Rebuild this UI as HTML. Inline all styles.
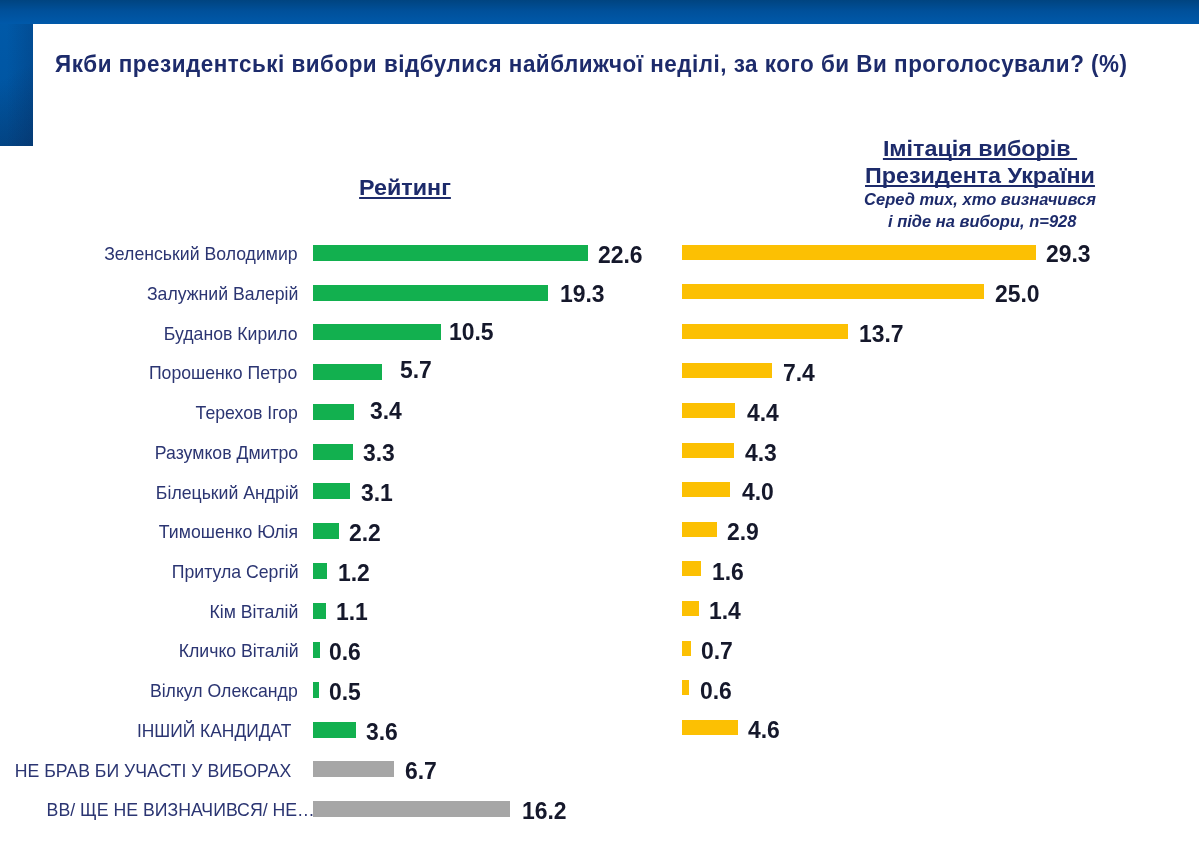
<!DOCTYPE html>
<html lang="uk">
<head>
<meta charset="utf-8">
<title>Рейтинг</title>
<style>
html,body{margin:0;padding:0;background:#fff;}
body{width:1200px;height:852px;position:relative;overflow:hidden;font-family:"Liberation Sans",sans-serif;}
.topband{position:absolute;left:0;top:0;width:1199px;height:24.3px;background:linear-gradient(to bottom,#004480 0%,#00509a 45%,#0059aa 100%);}
.leftblk{position:absolute;left:0;top:24px;width:32.6px;height:121.6px;background:linear-gradient(to right,rgba(10,35,80,0) 20%,rgba(10,35,80,.22) 100%),linear-gradient(150deg,rgba(10,35,80,0) 40%,rgba(10,35,80,.36) 100%),linear-gradient(to bottom,#0059a8 0%,#0056a3 50%,#005198 100%);}
.title{position:absolute;left:54.7px;top:50.5px;margin:0;font-size:23.2px;line-height:26px;letter-spacing:.518px;font-weight:700;color:#1d2b6b;white-space:nowrap;transform:scaleX(0.968);transform-origin:0 0;}
.h{position:absolute;font-weight:700;font-size:22.8px;line-height:26.6px;transform:scaleX(1.022);transform-origin:50% 0;color:#1d2b6b;text-align:center;white-space:pre;text-decoration:underline;text-decoration-thickness:2px;text-underline-offset:2px;text-decoration-skip-ink:none;}
.sub{position:absolute;font-weight:700;font-style:italic;font-size:16.2px;line-height:21.2px;color:#1d2b6b;text-align:center;white-space:nowrap;transform:scaleX(1.019);transform-origin:50% 0;}
.lab{position:absolute;transform:scaleX(0.994);transform-origin:100% 0;font-size:17.8px;line-height:20px;height:20px;color:#2b3572;white-space:nowrap;text-align:right;}
.bar{position:absolute;}
.g{background:#12b04f;height:16px;}
.y{background:#fcc003;height:15px;}
.n{background:#a6a6a6;height:16px;}
.val{position:absolute;transform:scaleX(0.955);transform-origin:0 0;font-weight:700;font-size:24px;line-height:26px;height:26px;color:#15182b;white-space:nowrap;}
</style>
</head>
<body>
<div class="topband"></div>
<div class="leftblk"></div>
<h1 class="title">Якби президентські вибори відбулися найближчої неділі, за кого би Ви проголосували? (%)</h1>
<div class="h" id="h1" style="left:340px;width:130px;top:173.6px;">Рейтинг</div>
<div class="h" id="h2" style="left:840px;width:280px;top:135.4px;">Імітація виборів <br>Президента України</div>
<div class="sub" id="s1" style="left:840px;width:280px;top:189.3px;">Серед тих, хто визначився<br><span style="position:relative;left:2.2px">і піде на вибори, n=928</span></div>

<div class="lab" id="lab0" style="top:244.1px;right:902.0px">Зеленський Володимир</div>
<div class="bar g" style="left:312.5px;top:244.9px;width:275.7px"></div>
<div class="val" id="gv0" style="left:598.0px;top:241.7px">22.6</div>
<div class="bar y" style="left:682.2px;top:244.6px;width:353.9px"></div>
<div class="val" id="yv0" style="left:1046.3px;top:241.1px">29.3</div>
<div class="lab" id="lab1" style="top:283.9px;right:902.0px">Залужний Валерій</div>
<div class="bar g" style="left:312.5px;top:284.6px;width:235.5px"></div>
<div class="val" id="gv1" style="left:559.8px;top:281.4px">19.3</div>
<div class="bar y" style="left:682.2px;top:284.2px;width:302.0px"></div>
<div class="val" id="yv1" style="left:994.9px;top:280.8px">25.0</div>
<div class="lab" id="lab2" style="top:323.6px;right:902.0px">Буданов Кирило</div>
<div class="bar g" style="left:312.5px;top:324.4px;width:128.1px"></div>
<div class="val" id="gv2" style="left:449.3px;top:318.8px">10.5</div>
<div class="bar y" style="left:682.2px;top:323.8px;width:165.5px"></div>
<div class="val" id="yv2" style="left:859.1px;top:320.5px">13.7</div>
<div class="lab" id="lab3" style="top:363.3px;right:903.0px">Порошенко Петро</div>
<div class="bar g" style="left:312.5px;top:364.1px;width:69.5px"></div>
<div class="val" id="gv3" style="left:400.2px;top:357.3px">5.7</div>
<div class="bar y" style="left:682.2px;top:363.4px;width:89.4px"></div>
<div class="val" id="yv3" style="left:782.8px;top:360.1px">7.4</div>
<div class="lab" id="lab4" style="top:403.0px;right:902.0px">Терехов Ігор</div>
<div class="bar g" style="left:312.5px;top:403.8px;width:41.5px"></div>
<div class="val" id="gv4" style="left:369.6px;top:397.6px">3.4</div>
<div class="bar y" style="left:682.2px;top:403.0px;width:53.2px"></div>
<div class="val" id="yv4" style="left:746.6px;top:399.8px">4.4</div>
<div class="lab" id="lab5" style="top:442.8px;right:902.0px">Разумков Дмитро</div>
<div class="bar g" style="left:312.5px;top:443.5px;width:40.3px"></div>
<div class="val" id="gv5" style="left:362.8px;top:440.3px">3.3</div>
<div class="bar y" style="left:682.2px;top:442.6px;width:51.9px"></div>
<div class="val" id="yv5" style="left:745.2px;top:439.5px">4.3</div>
<div class="lab" id="lab6" style="top:482.5px;right:901.0px">Білецький Андрій</div>
<div class="bar g" style="left:312.5px;top:483.3px;width:37.8px"></div>
<div class="val" id="gv6" style="left:361.4px;top:480.1px">3.1</div>
<div class="bar y" style="left:682.2px;top:482.2px;width:48.3px"></div>
<div class="val" id="yv6" style="left:742.0px;top:479.2px">4.0</div>
<div class="lab" id="lab7" style="top:522.2px;right:902.0px">Тимошенко Юлія</div>
<div class="bar g" style="left:312.5px;top:523.0px;width:26.8px"></div>
<div class="val" id="gv7" style="left:349.0px;top:519.8px">2.2</div>
<div class="bar y" style="left:682.2px;top:521.8px;width:35.0px"></div>
<div class="val" id="yv7" style="left:726.7px;top:518.9px">2.9</div>
<div class="lab" id="lab8" style="top:562.0px;right:901.0px">Притула Сергій</div>
<div class="bar g" style="left:312.5px;top:562.7px;width:14.6px"></div>
<div class="val" id="gv8" style="left:338.2px;top:559.5px">1.2</div>
<div class="bar y" style="left:682.2px;top:561.4px;width:19.3px"></div>
<div class="val" id="yv8" style="left:711.8px;top:558.5px">1.6</div>
<div class="lab" id="lab9" style="top:601.7px;right:902.0px">Кім Віталій</div>
<div class="bar g" style="left:312.5px;top:602.5px;width:13.4px"></div>
<div class="val" id="gv9" style="left:336.3px;top:599.3px">1.1</div>
<div class="bar y" style="left:682.2px;top:601.0px;width:16.9px"></div>
<div class="val" id="yv9" style="left:709.3px;top:598.2px">1.4</div>
<div class="lab" id="lab10" style="top:641.4px;right:901.0px">Кличко Віталій</div>
<div class="bar g" style="left:312.5px;top:642.2px;width:7.3px"></div>
<div class="val" id="gv10" style="left:329.0px;top:639.0px">0.6</div>
<div class="bar y" style="left:682.2px;top:640.6px;width:8.5px"></div>
<div class="val" id="yv10" style="left:701.1px;top:637.9px">0.7</div>
<div class="lab" id="lab11" style="top:681.2px;right:902.0px">Вілкул Олександр</div>
<div class="bar g" style="left:312.5px;top:681.9px;width:6.1px"></div>
<div class="val" id="gv11" style="left:328.6px;top:678.7px">0.5</div>
<div class="bar y" style="left:682.2px;top:680.2px;width:7.2px"></div>
<div class="val" id="yv11" style="left:700.0px;top:677.6px">0.6</div>
<div class="lab" id="lab12" style="font-size:17.5px;top:720.9px;right:909.0px">ІНШИЙ КАНДИДАТ</div>
<div class="bar g" style="left:312.5px;top:721.7px;width:43.9px"></div>
<div class="val" id="gv12" style="left:366.3px;top:718.5px">3.6</div>
<div class="bar y" style="left:682.2px;top:719.8px;width:55.6px"></div>
<div class="val" id="yv12" style="left:747.9px;top:717.3px">4.6</div>
<div class="lab" id="lab13" style="top:760.6px;right:909.0px">НЕ БРАВ БИ УЧАСТІ У ВИБОРАХ</div>
<div class="bar n" style="left:312.5px;top:761.4px;width:81.7px"></div>
<div class="val" id="gv13" style="left:405.2px;top:758.2px">6.7</div>
<div class="lab" id="lab14" style="font-size:17.82px;top:800.3px;right:885.5px">ВВ/ ЩЕ НЕ ВИЗНАЧИВСЯ/ НЕ…</div>
<div class="bar n" style="left:312.5px;top:801.1px;width:197.6px"></div>
<div class="val" id="gv14" style="left:521.5px;top:797.9px">16.2</div>
</body>
</html>
